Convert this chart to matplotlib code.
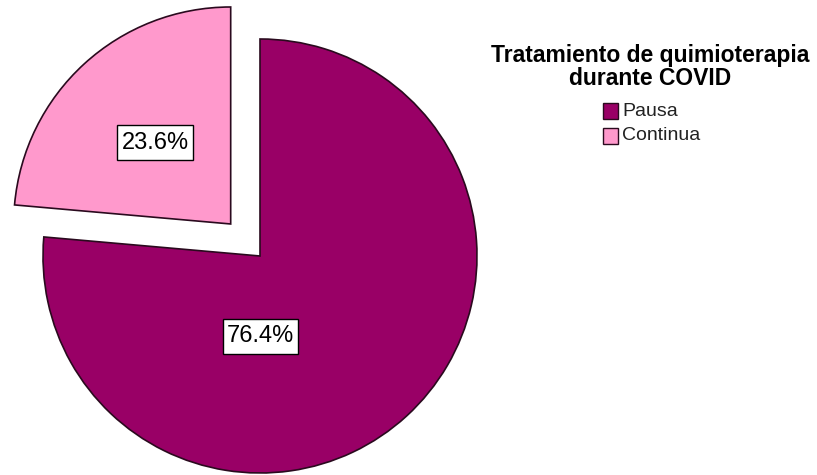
import matplotlib
matplotlib.use("Agg")
import matplotlib.pyplot as plt
from matplotlib.patches import Rectangle

plt.rcParams['font.family'] = ['Liberation Sans', 'DejaVu Sans']

categories = ["Pausa", "Continua"]
percentages = [76.4, 23.6]
colors = ["#990066", "#FF99CC"]
explode = [0.0, 0.2]
legend_title = "Tratamiento de quimioterapia\ndurante COVID"

W, H = 817, 475
fig = plt.figure(figsize=(W / 100, H / 100), dpi=100)
ax = fig.add_axes([0, 0, 1, 1])

wedges, texts, autotexts = ax.pie(
    percentages, colors=colors, explode=explode, startangle=90,
    counterclock=False, radius=1.0, autopct="%.1f%%",
    wedgeprops=dict(edgecolor="#2a0a1e", linewidth=1.2),
    textprops=dict(fontsize=17, color="black"),
)

# pie centre and radius in pixels
cx, cy, r = 260, 256, 217
ax.set_aspect("auto")
ax.set_xlim(-cx / r, (W - cx) / r)
ax.set_ylim(-(H - cy) / r, cy / r)
ax.axis("off")

label_pos = [(0.004, -0.369), (-0.484, 0.521)]
for t, pos in zip(autotexts, label_pos):
    t.set_position(pos)
    t.set_ha("center")
    t.set_va("center")
    t.set_zorder(5)

# white label boxes, wider vertical than horizontal padding
fig.canvas.draw()
renderer = fig.canvas.get_renderer()
for t in autotexts:
    bb = t.get_window_extent(renderer)
    padx, pady = 4, 9
    xc, yc = (bb.x0 + bb.x1) / 2, (bb.y0 + bb.y1) / 2
    w = bb.width + 2 * padx
    h = 17 + 2 * pady
    fig.patches.append(Rectangle(((xc - w / 2) / W, (yc - h / 2) / H), w / W, h / H,
                                 transform=fig.transFigure, facecolor="white",
                                 edgecolor="black", linewidth=1.0, zorder=4))
    t.remove()
    fig.text(xc / W, yc / H, t.get_text(), ha="center", va="center",
             fontsize=17, color="black", zorder=6)

# legend
fig.text(650 / W, 1 - 67 / H, legend_title, ha="center", va="center",
         fontsize=16.5, fontweight="bold", linespacing=1.0)
entry_y = [111, 136]
for name, col, y in zip(categories, colors, entry_y):
    fig.patches.append(Rectangle((603 / W, 1 - (y + 8) / H), 15 / W, 16 / H,
                                 transform=fig.transFigure, facecolor=col,
                                 edgecolor="#2a0a1e", linewidth=1.0))
    fig.text(622 / W, 1 - y / H, name, ha="left", va="center", fontsize=14,
             color="#222222")

fig.savefig("out.png", dpi=100)
